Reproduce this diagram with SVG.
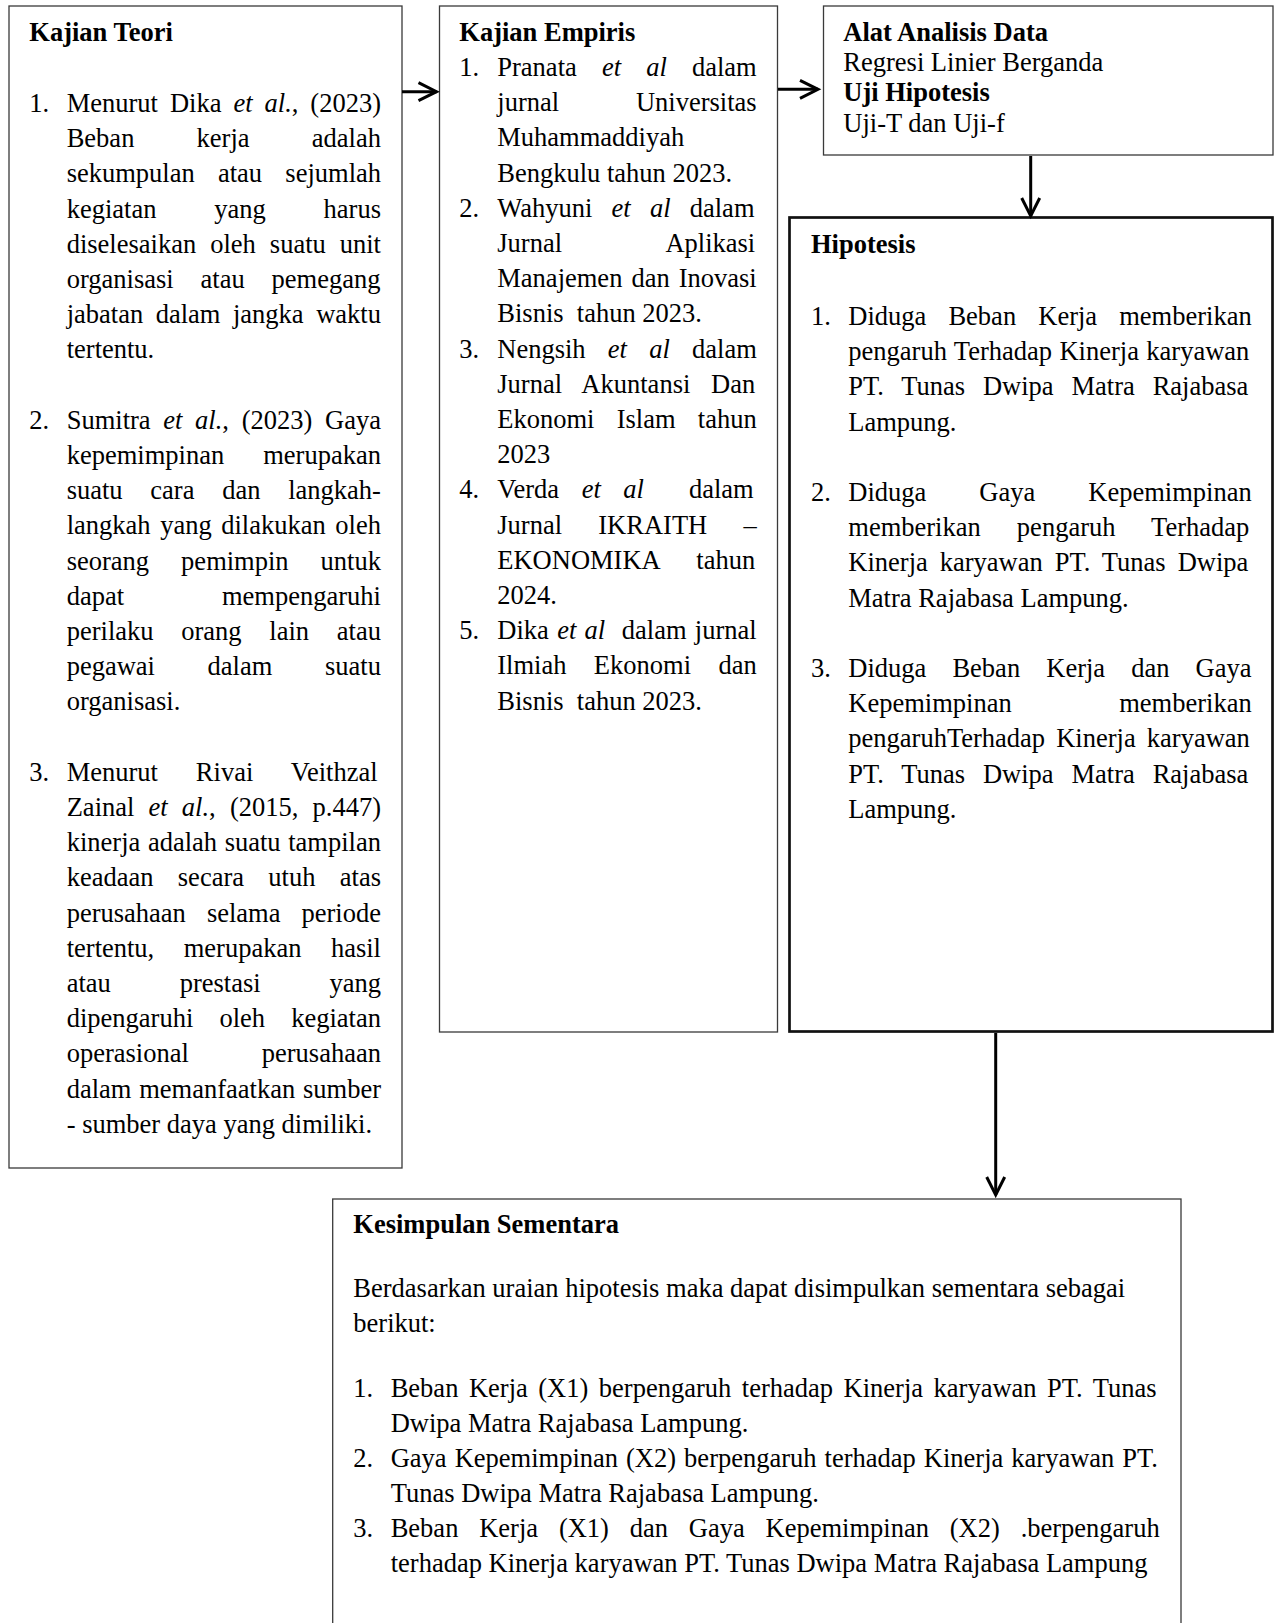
<svg xmlns="http://www.w3.org/2000/svg" width="1274" height="1623" viewBox="0 0 1274 1623">
<style>
text{font-family:"Liberation Serif","Times New Roman",serif;font-size:26.5px;fill:#000}
.b{font-weight:bold}
.i{font-style:italic}
.box{fill:#fff;stroke:#3a3a3a;stroke-width:1.3}
.thick{fill:#fff;stroke:#111;stroke-width:2.7}
.conn{stroke:#000;stroke-width:3;fill:none}
</style>
<defs>
<marker id="arr" markerUnits="userSpaceOnUse" markerWidth="26" markerHeight="26" refX="19" refY="10" orient="auto" overflow="visible">
<path d="M1,1 L19,10 L1,19" fill="none" stroke="#000" stroke-width="3"/>
</marker>
</defs>
<rect width="1274" height="1623" fill="#fff"/>

<g id="kajian-teori">
<rect class="box" x="9" y="6" width="393" height="1162"/>
<text class="b" x="29.3" y="41">Kajian Teori</text>
<text x="29.3" y="112">1.</text>
<text x="66.7" y="112" word-spacing="5.35">Menurut Dika <tspan class="i">et al.</tspan>, (2023)</text>
<text x="66.7" y="147.2" word-spacing="55.6">Beban kerja adalah</text>
<text x="66.7" y="182.4" word-spacing="16.6">sekumpulan atau sejumlah</text>
<text x="66.7" y="217.6" word-spacing="51.2">kegiatan yang harus</text>
<text x="66.7" y="252.8" word-spacing="7.37">diselesaikan oleh suatu unit</text>
<text x="66.7" y="288" word-spacing="20.25">organisasi atau pemegang</text>
<text x="66.7" y="323.2" word-spacing="5.9">jabatan dalam jangka waktu</text>
<text x="66.7" y="358.4">tertentu.</text>
<text x="29.3" y="428.8">2.</text>
<text x="66.7" y="428.8" word-spacing="6.07">Sumitra <tspan class="i">et al.</tspan>, (2023) Gaya</text>
<text x="66.7" y="464" word-spacing="32.4">kepemimpinan merupakan</text>
<text x="66.7" y="499.2" word-spacing="21.1">suatu cara dan langkah-</text>
<text x="66.7" y="534.4" word-spacing="2.96">langkah yang dilakukan oleh</text>
<text x="66.7" y="569.6" word-spacing="25.4">seorang pemimpin untuk</text>
<text x="66.7" y="604.8" word-spacing="91.3">dapat mempengaruhi</text>
<text x="66.7" y="640" word-spacing="21.1">perilaku orang lain atau</text>
<text x="66.7" y="675.2" word-spacing="46">pegawai dalam suatu</text>
<text x="66.7" y="710.4">organisasi.</text>
<text x="29.3" y="780.8">3.</text>
<text x="66.7" y="780.8" word-spacing="31.3">Menurut Rivai Veithzal</text>
<text x="66.7" y="816" word-spacing="7.55">Zainal <tspan class="i">et al.</tspan>, (2015, p.447)</text>
<text x="66.7" y="851.2" word-spacing="1">kinerja adalah suatu tampilan</text>
<text x="66.7" y="886.4" word-spacing="17.7">keadaan secara utuh atas</text>
<text x="66.7" y="921.6" word-spacing="14.4">perusahaan selama periode</text>
<text x="66.7" y="956.8" word-spacing="22.85">tertentu, merupakan hasil</text>
<text x="66.7" y="992" word-spacing="62.2">atau prestasi yang</text>
<text x="66.7" y="1027.2" word-spacing="19.5">dipengaruhi oleh kegiatan</text>
<text x="66.7" y="1062.4" word-spacing="66.3">operasional perusahaan</text>
<text x="66.7" y="1097.6" word-spacing="1.15">dalam memanfaatkan sumber</text>
<text x="66.7" y="1132.8">- sumber daya yang dimiliki.</text>
</g>

<g id="kajian-empiris">
<rect class="box" x="439.5" y="6" width="338" height="1026"/>
<text class="b" x="459.3" y="41">Kajian Empiris</text>
<text x="459.3" y="76">1.</text>
<text x="497.3" y="76" word-spacing="18.5">Pranata <tspan class="i">et al</tspan> dalam</text>
<text x="497.3" y="111.2" word-spacing="70.2">jurnal Universitas</text>
<text x="497.3" y="146.4">Muhammaddiyah</text>
<text x="497.3" y="181.6">Bengkulu tahun 2023.</text>
<text x="459.3" y="216.8">2.</text>
<text x="497.3" y="216.8" word-spacing="12.6">Wahyuni <tspan class="i">et al</tspan> dalam</text>
<text x="497.3" y="252" word-spacing="98.2">Jurnal Aplikasi</text>
<text x="497.3" y="287.2" word-spacing="2.4">Manajemen dan Inovasi</text>
<text x="497.3" y="322.4" xml:space="preserve">Bisnis  tahun 2023.</text>
<text x="459.3" y="357.6">3.</text>
<text x="497.3" y="357.6" word-spacing="15.6">Nengsih <tspan class="i">et al</tspan> dalam</text>
<text x="497.3" y="392.8" word-spacing="14.15">Jurnal Akuntansi Dan</text>
<text x="497.3" y="428" word-spacing="15.6">Ekonomi Islam tahun</text>
<text x="497.3" y="463.2">2023</text>
<text x="459.3" y="498.4">4.</text>
<text x="497.3" y="498.4" word-spacing="15.9" xml:space="preserve">Verda <tspan class="i">et al</tspan>  dalam</text>
<text x="497.3" y="533.6" word-spacing="29.6">Jurnal IKRAITH –</text>
<text x="497.3" y="568.8" word-spacing="30.5">EKONOMIKA tahun</text>
<text x="497.3" y="604">2024.</text>
<text x="459.3" y="639.2">5.</text>
<text x="497.3" y="639.2" word-spacing="1.68" xml:space="preserve">Dika <tspan class="i">et al</tspan>  dalam jurnal</text>
<text x="497.3" y="674.4" word-spacing="20.75">Ilmiah Ekonomi dan</text>
<text x="497.3" y="709.6" xml:space="preserve">Bisnis  tahun 2023.</text>
</g>

<g id="alat-analisis">
<rect class="box" x="823.5" y="6" width="449.5" height="149"/>
<text class="b" x="843.3" y="40.5">Alat Analisis Data</text>
<text x="843.3" y="71">Regresi Linier Berganda</text>
<text class="b" x="843.3" y="101">Uji Hipotesis</text>
<text x="843.3" y="131.5">Uji-T dan Uji-f</text>
</g>

<g id="hipotesis">
<rect class="thick" x="789.5" y="217.5" width="483" height="814"/>
<text class="b" x="811" y="253.3">Hipotesis</text>
<text x="811" y="325">1.</text>
<text x="848.3" y="325" word-spacing="15.5">Diduga Beban Kerja memberikan</text>
<text x="848.3" y="360.2" word-spacing="0.8">pengaruh Terhadap Kinerja karyawan</text>
<text x="848.3" y="395.4" word-spacing="11.25">PT. Tunas Dwipa Matra Rajabasa</text>
<text x="848.3" y="430.6">Lampung.</text>
<text x="811" y="501">2.</text>
<text x="848.3" y="501" word-spacing="46.4">Diduga Gaya Kepemimpinan</text>
<text x="848.3" y="536.2" word-spacing="29.5">memberikan pengaruh Terhadap</text>
<text x="848.3" y="571.4" word-spacing="5.37">Kinerja karyawan PT. Tunas Dwipa</text>
<text x="848.3" y="606.6">Matra Rajabasa Lampung.</text>
<text x="811" y="677">3.</text>
<text x="848.3" y="677" word-spacing="19.5">Diduga Beban Kerja dan Gaya</text>
<text x="848.3" y="712.2" word-spacing="100.9">Kepemimpinan memberikan</text>
<text x="848.3" y="747.4" word-spacing="4.5">pengaruhTerhadap Kinerja karyawan</text>
<text x="848.3" y="782.6" word-spacing="11.25">PT. Tunas Dwipa Matra Rajabasa</text>
<text x="848.3" y="817.8">Lampung.</text>
</g>

<g id="kesimpulan">
<rect class="box" x="332.7" y="1199" width="848.3" height="460"/>
<text class="b" x="353.3" y="1233.3">Kesimpulan Sementara</text>
<text x="353.3" y="1297">Berdasarkan uraian hipotesis maka dapat disimpulkan sementara sebagai</text>
<text x="353.3" y="1332">berikut:</text>
<text x="353.3" y="1397">1.</text>
<text x="390.7" y="1397" word-spacing="3.9">Beban Kerja (X1) berpengaruh terhadap Kinerja karyawan PT. Tunas</text>
<text x="390.7" y="1432">Dwipa Matra Rajabasa Lampung.</text>
<text x="353.3" y="1467">2.</text>
<text x="390.7" y="1467" word-spacing="1.41">Gaya Kepemimpinan (X2) berpengaruh terhadap Kinerja karyawan PT.</text>
<text x="390.7" y="1502">Tunas Dwipa Matra Rajabasa Lampung.</text>
<text x="353.3" y="1537">3.</text>
<text x="390.7" y="1537" word-spacing="14.2">Beban Kerja (X1) dan Gaya Kepemimpinan (X2) .berpengaruh</text>
<text x="390.7" y="1572">terhadap Kinerja karyawan PT. Tunas Dwipa Matra Rajabasa Lampung</text>
</g>

<g id="connectors">
<line class="conn" x1="402" y1="91.7" x2="436.5" y2="91.7" marker-end="url(#arr)"/>
<line class="conn" x1="778" y1="89.3" x2="818" y2="89.3" marker-end="url(#arr)"/>
<line class="conn" x1="1030.7" y1="156" x2="1030.7" y2="216" marker-end="url(#arr)"/>
<line class="conn" x1="995.7" y1="1033" x2="995.7" y2="1195" marker-end="url(#arr)"/>
</g>
</svg>
